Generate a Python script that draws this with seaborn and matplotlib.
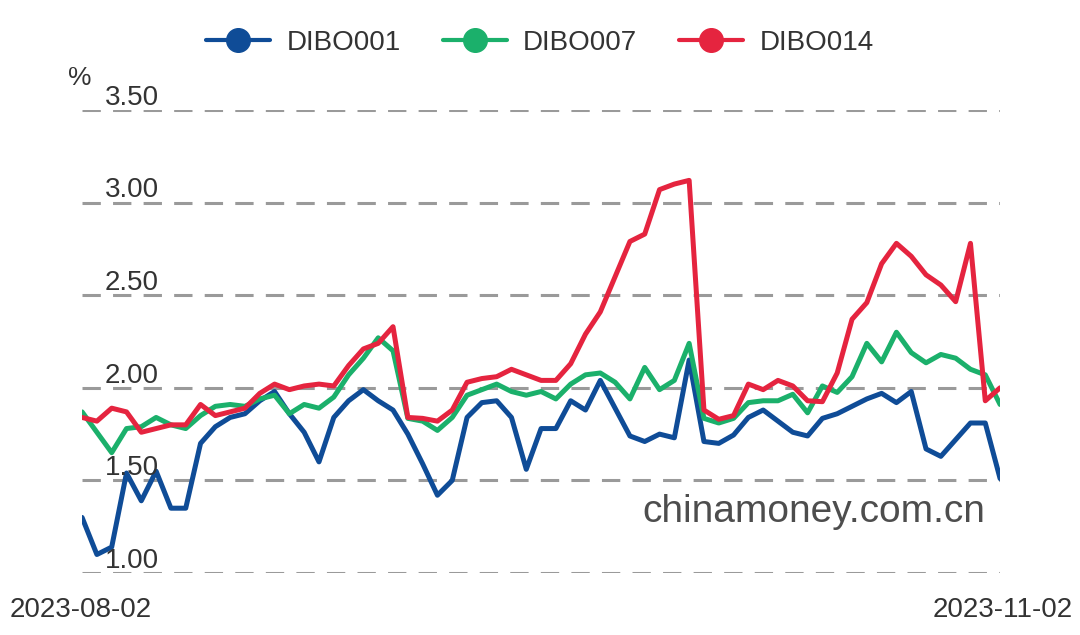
import pandas as pd
import matplotlib
matplotlib.use("Agg")
import matplotlib.pyplot as plt
import matplotlib.transforms as mtransforms
from matplotlib.lines import Line2D
import seaborn as sns

# values, one per trading day 2023-08-02 .. 2023-11-02
dibo001 = [1.30, 1.10, 1.14, 1.54, 1.39, 1.55, 1.35, 1.35, 1.70, 1.79,
           1.84, 1.86, 1.93, 1.98, 1.86, 1.76, 1.60, 1.84, 1.93, 1.99,
           1.93, 1.88, 1.75, 1.59, 1.42, 1.50, 1.84, 1.92, 1.93, 1.84,
           1.56, 1.78, 1.78, 1.93, 1.88, 2.04, 1.89, 1.74, 1.71, 1.75,
           1.73, 2.15, 1.71, 1.70, 1.745, 1.84, 1.88, 1.82, 1.76, 1.74,
           1.835, 1.86, 1.90, 1.94, 1.97, 1.92, 1.98, 1.67, 1.63, 1.72,
           1.81, 1.81, 1.51]
dibo007 = [1.87, 1.76, 1.65, 1.78, 1.79, 1.84, 1.80, 1.78, 1.85, 1.90,
           1.91, 1.90, 1.94, 1.96, 1.86, 1.91, 1.89, 1.95, 2.07, 2.16,
           2.27, 2.20, 1.835, 1.82, 1.77, 1.84, 1.96, 1.99, 2.02, 1.98,
           1.96, 1.98, 1.94, 2.02, 2.07, 2.08, 2.03, 1.94, 2.11, 1.99,
           2.04, 2.24, 1.835, 1.81, 1.835, 1.92, 1.93, 1.93, 1.965, 1.865,
           2.01, 1.975, 2.06, 2.24, 2.14, 2.30, 2.19, 2.135, 2.18, 2.16,
           2.10, 2.07, 1.91]
dibo014 = [1.84, 1.82, 1.89, 1.87, 1.76, 1.78, 1.80, 1.80, 1.91, 1.85,
           1.87, 1.89, 1.97, 2.02, 1.99, 2.01, 2.02, 2.01, 2.12, 2.21,
           2.24, 2.33, 1.84, 1.835, 1.82, 1.88, 2.03, 2.05, 2.06, 2.10,
           2.07, 2.04, 2.04, 2.13, 2.29, 2.41, 2.60, 2.79, 2.83, 3.07,
           3.10, 3.12, 1.88, 1.83, 1.85, 2.02, 1.99, 2.04, 2.01, 1.93,
           1.925, 2.08, 2.37, 2.46, 2.67, 2.78, 2.71, 2.61, 2.555, 2.465,
           2.78, 1.93, 2.00]

series_names = ["DIBO001", "DIBO007", "DIBO014"]
colors = ["#0f4c97", "#1bb06b", "#e5243f"]
y_ticks = [1.00, 1.50, 2.00, 2.50, 3.00, 3.50]
start_label = "2023-08-02"
end_label = "2023-11-02"

rows = []
for name, vals in zip(series_names, [dibo001, dibo007, dibo014]):
    for i, v in enumerate(vals):
        rows.append({"day": i, "rate": v, "series": name})
df = pd.DataFrame(rows)

sns.set_style("white")
plt.rcParams["font.family"] = ["Liberation Sans", "DejaVu Sans"]

fig = plt.figure(figsize=(10.8, 6.35), dpi=100)
ax = fig.add_axes([0.076, 0.0976, 0.85, 0.7292])

# dashed horizontal gridlines
for t in y_ticks:
    ax.axhline(t, color="#9a9a9a", lw=2.2, ls=(0, (6, 4)), zorder=0)

sns.lineplot(data=df, x="day", y="rate", hue="series", palette=colors,
             linewidth=3.6, legend=False, ax=ax)

n = len(dibo001)
ax.set_xlim(0, n - 1)
ax.set_ylim(1.0, 3.5)
ax.set_xticks([])
ax.set_yticks([])
ax.set_xlabel("")
ax.set_ylabel("")
for s in ax.spines.values():
    s.set_visible(False)

# tick labels sit just above their gridline
trans = mtransforms.blended_transform_factory(ax.transAxes, ax.transData)
for t in y_ticks:
    ax.text(0.025, t - 0.004, f"{t:.2f}", transform=trans, ha="left",
            va="bottom", fontsize=20, color="#333333")

fig.text(0.074, 0.877, "%", ha="center", va="center", fontsize=19,
         color="#333333")
fig.text(0.009, 0.039, start_label, ha="left", va="center", fontsize=20,
         color="#333333")
fig.text(0.993, 0.039, end_label, ha="right", va="center", fontsize=20,
         color="#333333")
fig.text(0.912, 0.194, "chinamoney.com.cn", ha="right", va="center",
         fontsize=28, color="#4d4d4d")

handles = [Line2D([0], [0], color=c, lw=3, marker="o", markersize=17)
           for c in colors]
fig.legend(handles, series_names, loc="center", bbox_to_anchor=(0.5, 0.932),
           ncol=3, frameon=False, fontsize=20, handlelength=2.3,
           columnspacing=1.5, handletextpad=0.6, labelcolor="#333333")

fig.savefig("out.png", dpi=100)
